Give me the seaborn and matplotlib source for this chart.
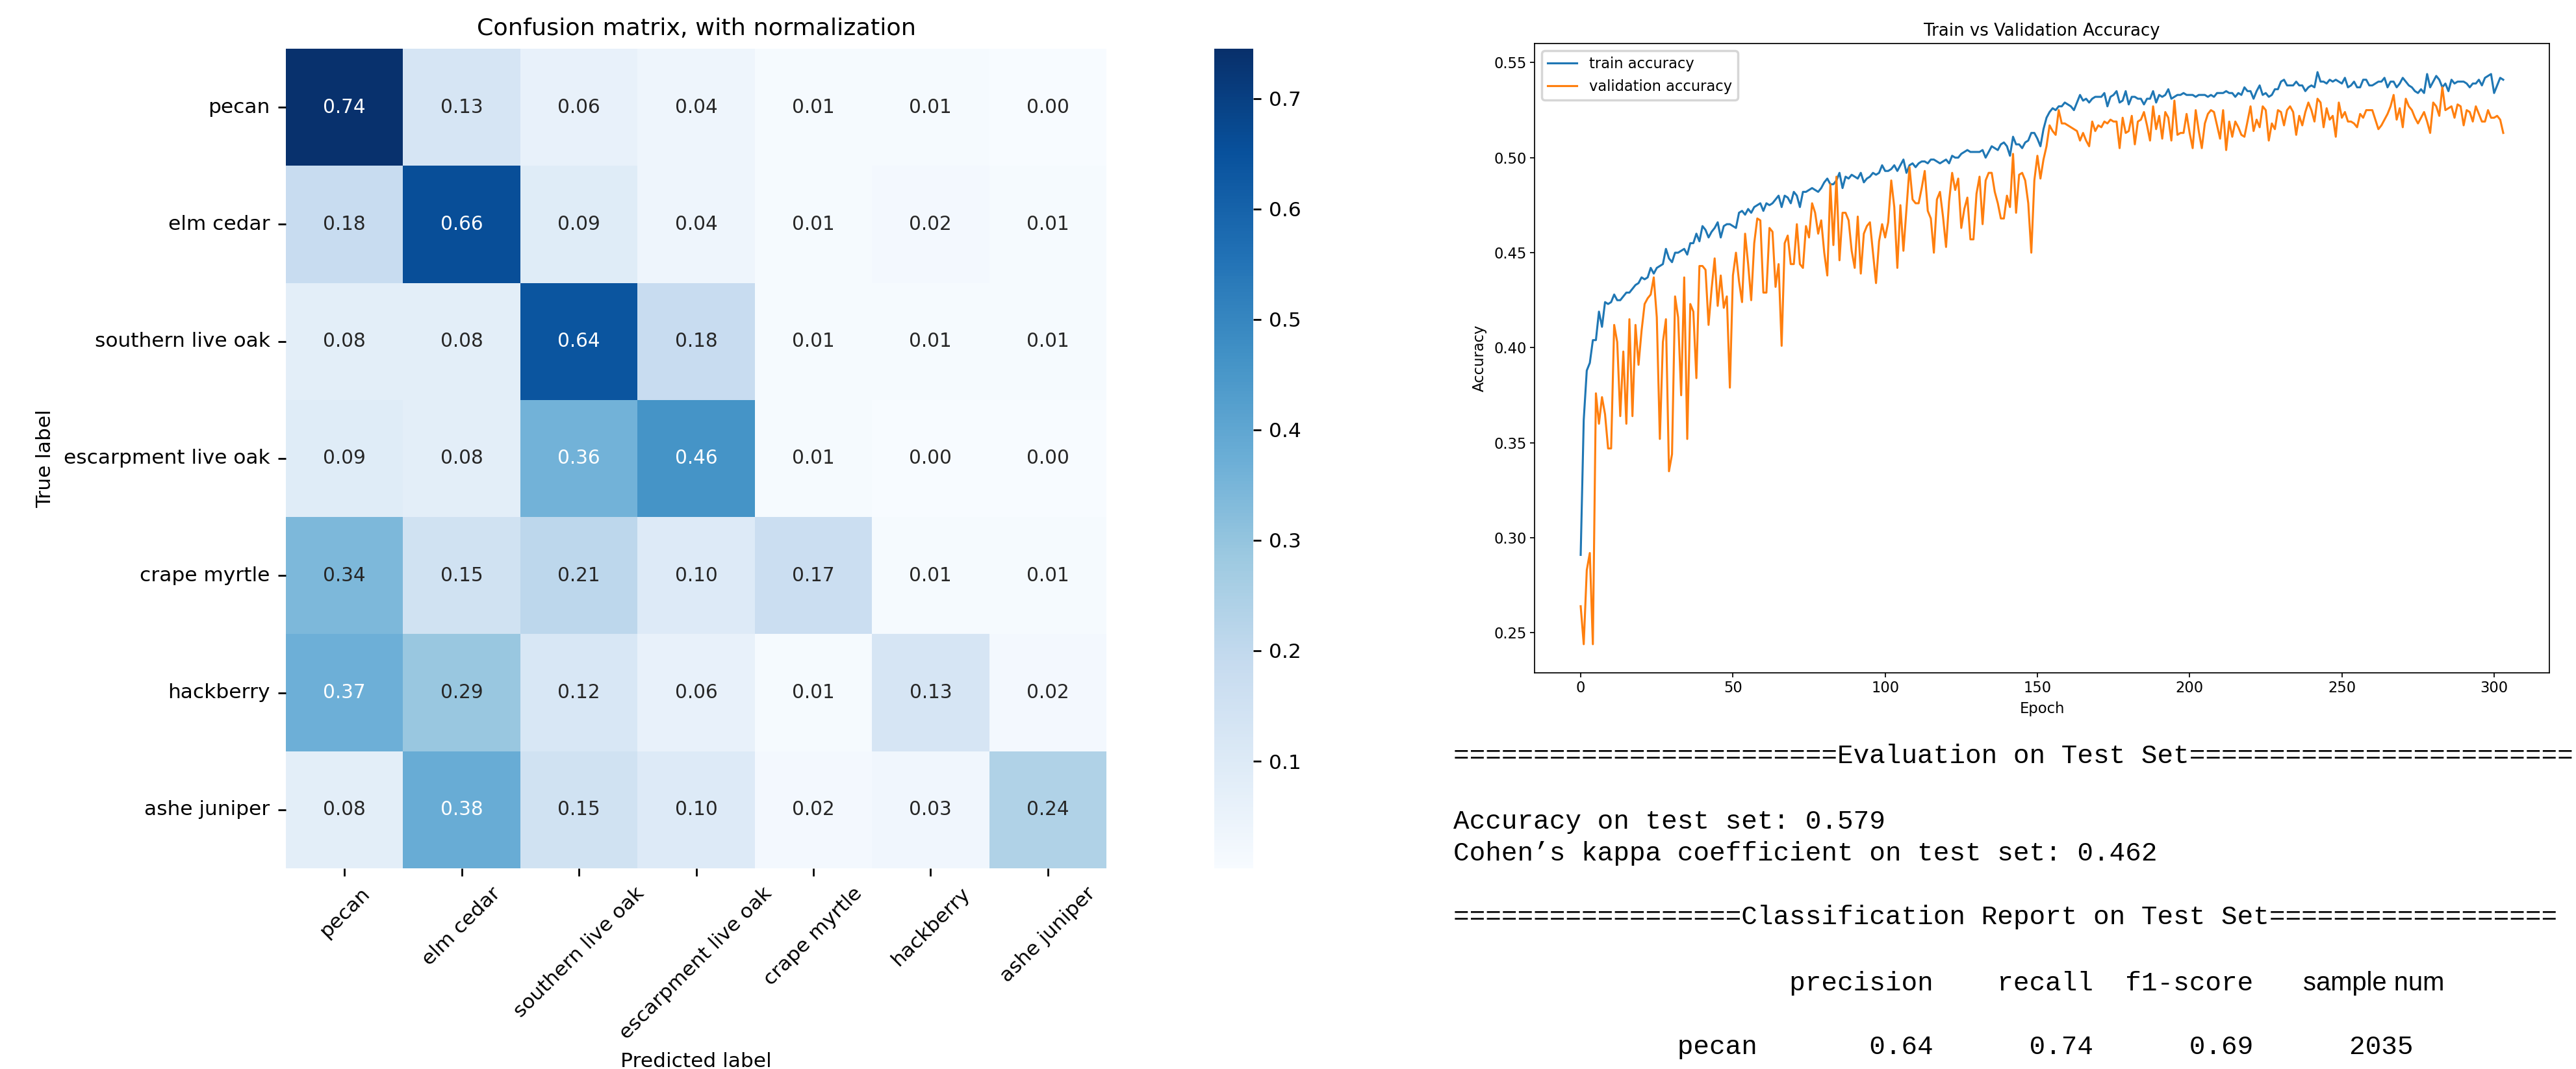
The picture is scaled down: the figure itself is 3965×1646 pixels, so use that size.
import matplotlib
matplotlib.use('Agg')
import matplotlib.pyplot as plt
import numpy as np
import pandas as pd
import seaborn as sns

# Clases del conjunto de datos
clases = ['pecan', 'elm cedar', 'southern live oak', 'escarpment live oak',
          'crape myrtle', 'hackberry', 'ashe juniper']

# Matriz de confusion normalizada (filas: etiqueta real)
cm_norm = [
    [0.74, 0.13, 0.06, 0.04, 0.01, 0.01, 0.00],
    [0.18, 0.66, 0.09, 0.04, 0.01, 0.02, 0.01],
    [0.08, 0.08, 0.64, 0.18, 0.01, 0.01, 0.01],
    [0.09, 0.08, 0.36, 0.46, 0.01, 0.00, 0.00],
    [0.34, 0.15, 0.21, 0.10, 0.17, 0.01, 0.01],
    [0.37, 0.29, 0.12, 0.06, 0.01, 0.13, 0.02],
    [0.08, 0.38, 0.15, 0.10, 0.02, 0.03, 0.24],
]

# Accuracy por epoca
train_acc = [
    0.291, 0.362, 0.388, 0.392, 0.404, 0.404, 0.419, 0.411, 0.424, 0.423,
    0.424, 0.428, 0.425, 0.425, 0.427, 0.429, 0.429, 0.431, 0.433, 0.434,
    0.437, 0.436, 0.437, 0.442, 0.439, 0.442, 0.443, 0.444, 0.452, 0.447,
    0.445, 0.450, 0.450, 0.451, 0.452, 0.449, 0.455, 0.455, 0.460, 0.456,
    0.464, 0.462, 0.458, 0.461, 0.463, 0.466, 0.458, 0.464, 0.465, 0.465,
    0.464, 0.463, 0.471, 0.472, 0.470, 0.473, 0.471, 0.474, 0.475, 0.476,
    0.472, 0.476, 0.475, 0.476, 0.478, 0.480, 0.474, 0.480, 0.479, 0.476,
    0.482, 0.480, 0.474, 0.482, 0.482, 0.483, 0.484, 0.483, 0.482, 0.484,
    0.487, 0.489, 0.486, 0.486, 0.488, 0.492, 0.484, 0.490, 0.489, 0.491,
    0.490, 0.489, 0.492, 0.487, 0.489, 0.490, 0.492, 0.491, 0.492, 0.496,
    0.493, 0.493, 0.494, 0.496, 0.493, 0.496, 0.499, 0.492, 0.496, 0.497,
    0.495, 0.497, 0.498, 0.498, 0.497, 0.499, 0.499, 0.498, 0.497, 0.498,
    0.499, 0.497, 0.501, 0.500, 0.500, 0.502, 0.503, 0.504, 0.503, 0.503,
    0.503, 0.503, 0.504, 0.500, 0.503, 0.506, 0.505, 0.504, 0.507, 0.508,
    0.506, 0.501, 0.511, 0.507, 0.507, 0.505, 0.508, 0.509, 0.513, 0.513,
    0.510, 0.506, 0.515, 0.521, 0.524, 0.526, 0.525, 0.527, 0.527, 0.529,
    0.528, 0.527, 0.525, 0.529, 0.533, 0.530, 0.531, 0.529, 0.531, 0.532,
    0.532, 0.532, 0.534, 0.527, 0.532, 0.533, 0.535, 0.529, 0.530, 0.535,
    0.528, 0.532, 0.532, 0.531, 0.531, 0.528, 0.531, 0.531, 0.535, 0.529,
    0.533, 0.532, 0.533, 0.536, 0.531, 0.532, 0.533, 0.533, 0.534, 0.533,
    0.533, 0.533, 0.532, 0.533, 0.533, 0.533, 0.532, 0.533, 0.532, 0.534,
    0.534, 0.534, 0.535, 0.534, 0.534, 0.532, 0.534, 0.533, 0.537, 0.535,
    0.535, 0.531, 0.535, 0.538, 0.533, 0.534, 0.532, 0.533, 0.536, 0.536,
    0.540, 0.541, 0.538, 0.538, 0.538, 0.540, 0.538, 0.538, 0.535, 0.537,
    0.538, 0.537, 0.545, 0.540, 0.540, 0.539, 0.541, 0.540, 0.541, 0.540,
    0.539, 0.542, 0.537, 0.538, 0.540, 0.537, 0.537, 0.541, 0.541, 0.538,
    0.538, 0.539, 0.540, 0.540, 0.542, 0.537, 0.540, 0.540, 0.537, 0.539,
    0.542, 0.540, 0.538, 0.537, 0.535, 0.534, 0.536, 0.534, 0.544, 0.537,
    0.540, 0.543, 0.541, 0.537, 0.539, 0.535, 0.541, 0.539, 0.540, 0.540,
    0.540, 0.539, 0.537, 0.539, 0.539, 0.541, 0.538, 0.542, 0.543, 0.544,
    0.534, 0.538, 0.542, 0.541,
]

val_acc = [
    0.264, 0.244, 0.283, 0.292, 0.244, 0.376, 0.360, 0.374, 0.365, 0.347,
    0.347, 0.412, 0.403, 0.364, 0.398, 0.360, 0.415, 0.364, 0.412, 0.391,
    0.409, 0.423, 0.426, 0.428, 0.437, 0.416, 0.352, 0.403, 0.415, 0.335,
    0.344, 0.427, 0.416, 0.375, 0.437, 0.352, 0.423, 0.419, 0.384, 0.443,
    0.443, 0.441, 0.412, 0.431, 0.447, 0.422, 0.438, 0.421, 0.427, 0.379,
    0.438, 0.450, 0.435, 0.424, 0.460, 0.444, 0.425, 0.455, 0.468, 0.467,
    0.429, 0.429, 0.463, 0.461, 0.432, 0.444, 0.401, 0.455, 0.459, 0.444,
    0.444, 0.465, 0.444, 0.442, 0.464, 0.458, 0.476, 0.471, 0.460, 0.467,
    0.450, 0.438, 0.486, 0.454, 0.490, 0.446, 0.471, 0.471, 0.467, 0.451,
    0.442, 0.469, 0.439, 0.460, 0.464, 0.466, 0.450, 0.434, 0.456, 0.465,
    0.458, 0.466, 0.488, 0.474, 0.442, 0.475, 0.451, 0.473, 0.495, 0.478,
    0.476, 0.476, 0.484, 0.493, 0.472, 0.468, 0.450, 0.478, 0.482, 0.469,
    0.453, 0.477, 0.492, 0.483, 0.489, 0.463, 0.473, 0.479, 0.457, 0.457,
    0.481, 0.490, 0.465, 0.488, 0.492, 0.492, 0.482, 0.476, 0.468, 0.468,
    0.480, 0.474, 0.502, 0.471, 0.491, 0.492, 0.488, 0.476, 0.450, 0.488,
    0.501, 0.489, 0.499, 0.506, 0.517, 0.514, 0.512, 0.525, 0.518, 0.518,
    0.517, 0.516, 0.515, 0.514, 0.509, 0.513, 0.509, 0.506, 0.519, 0.514,
    0.517, 0.516, 0.519, 0.518, 0.520, 0.519, 0.519, 0.505, 0.521, 0.513,
    0.514, 0.522, 0.507, 0.519, 0.520, 0.524, 0.517, 0.509, 0.527, 0.515,
    0.522, 0.510, 0.524, 0.521, 0.509, 0.530, 0.512, 0.513, 0.513, 0.523,
    0.513, 0.505, 0.525, 0.514, 0.505, 0.518, 0.523, 0.525, 0.524, 0.517,
    0.510, 0.525, 0.504, 0.519, 0.511, 0.519, 0.516, 0.512, 0.511, 0.519,
    0.527, 0.514, 0.520, 0.516, 0.527, 0.525, 0.509, 0.518, 0.515, 0.525,
    0.524, 0.517, 0.525, 0.527, 0.524, 0.512, 0.522, 0.517, 0.524, 0.529,
    0.525, 0.519, 0.531, 0.529, 0.516, 0.526, 0.520, 0.522, 0.511, 0.529,
    0.521, 0.524, 0.519, 0.519, 0.518, 0.516, 0.523, 0.521, 0.525, 0.525,
    0.525, 0.520, 0.515, 0.517, 0.520, 0.523, 0.527, 0.533, 0.520, 0.526,
    0.516, 0.531, 0.527, 0.525, 0.521, 0.518, 0.521, 0.524, 0.519, 0.513,
    0.529, 0.527, 0.522, 0.537, 0.525, 0.526, 0.527, 0.521, 0.528, 0.527,
    0.517, 0.525, 0.524, 0.519, 0.527, 0.523, 0.519, 0.519, 0.525, 0.521,
    0.521, 0.522, 0.520, 0.513,
]

# Resultados sobre el conjunto de test
acc_test = 0.579
kappa_test = 0.462
reporte_clase = 'pecan'
reporte_valores = [0.64, 0.74, 0.69]
reporte_muestras = 2035

W, H = 3965, 1646
DPI = 250
fig = plt.figure(figsize=(W / DPI, H / DPI), dpi=DPI)

# ---- Matriz de confusion ----
ax_cm = fig.add_axes([440 / W, 1 - 1337 / H, 1263 / W, 1262 / H])
ax_cb = fig.add_axes([1869 / W, 1 - 1337 / H, 60 / W, 1262 / H])
df_cm = pd.DataFrame(cm_norm, index=clases, columns=clases)
sns.heatmap(df_cm, annot=True, fmt='.2f', cmap='Blues', vmin=0.003, vmax=0.745,
            ax=ax_cm, cbar_ax=ax_cb, annot_kws={'size': 8.5})
ax_cm.set_title('Confusion matrix, with normalization', fontsize=10.5)
ax_cm.set_ylabel('True label', fontsize=9)
ax_cm.set_xlabel('Predicted label', fontsize=9)
ax_cm.set_xticklabels(clases, rotation=45, ha='center', fontsize=9)
ax_cm.set_yticklabels(clases, rotation=0, fontsize=9)
ax_cb.tick_params(labelsize=9)

# ---- Curvas de accuracy ----
ax_acc = fig.add_axes([2362 / W, 1 - 1036 / H, 1562 / W, 969 / H])
epocas = np.arange(len(train_acc))
sns.lineplot(x=epocas, y=train_acc, ax=ax_acc, color='#1f77b4',
             linewidth=0.9, label='train accuracy')
sns.lineplot(x=epocas, y=val_acc, ax=ax_acc, color='#ff7f0e',
             linewidth=0.9, label='validation accuracy')
ax_acc.set_title('Train vs Validation Accuracy', fontsize=7.5, pad=3.5)
ax_acc.set_xlabel('Epoch', fontsize=6.5, labelpad=2.5)
ax_acc.set_ylabel('Accuracy', fontsize=6.5, labelpad=3)
ax_acc.set_xticks([0, 50, 100, 150, 200, 250, 300])
ax_acc.set_yticks([0.25, 0.30, 0.35, 0.40, 0.45, 0.50, 0.55])
ax_acc.tick_params(labelsize=6.5, length=2, width=0.5, pad=1.5)
for spine in ax_acc.spines.values():
    spine.set_linewidth(0.5)
ax_acc.legend(loc='upper left', fontsize=6.5)

# ---- Texto de evaluacion ----
mono = dict(family='Liberation Mono', fontsize=11.8, va='center', ha='left')
x0 = 2237 / W
encabezado = ' ' * 19 + '  ' + 'precision' + '    recall' + '  f1-score'
fila = f"{reporte_clase:>19} " + ''.join(f" {v:>9.2f}" for v in reporte_valores) + f" {reporte_muestras:>9}"

fig.text(x0, 1 - 1164 / H, '=' * 24 + 'Evaluation on Test Set' + '=' * 24, **mono)
fig.text(x0, 1 - 1265 / H, f'Accuracy on test set: {acc_test:.3f}', **mono)
fig.text(x0, 1 - 1314 / H, f'Cohen\u2019s kappa coefficient on test set: {kappa_test:.3f}', **mono)
fig.text(x0, 1 - 1412 / H, '=' * 18 + 'Classification Report on Test Set' + '=' * 18, **mono)
fig.text(x0, 1 - 1514 / H, encabezado, **mono)
fig.text(3545 / W, 1 - 1514 / H, 'sample num', family='Liberation Sans',
         fontsize=11.5, va='center', ha='left')
fig.text(x0, 1 - 1612 / H, fila, **mono)

fig.savefig('out.png', dpi=DPI)
